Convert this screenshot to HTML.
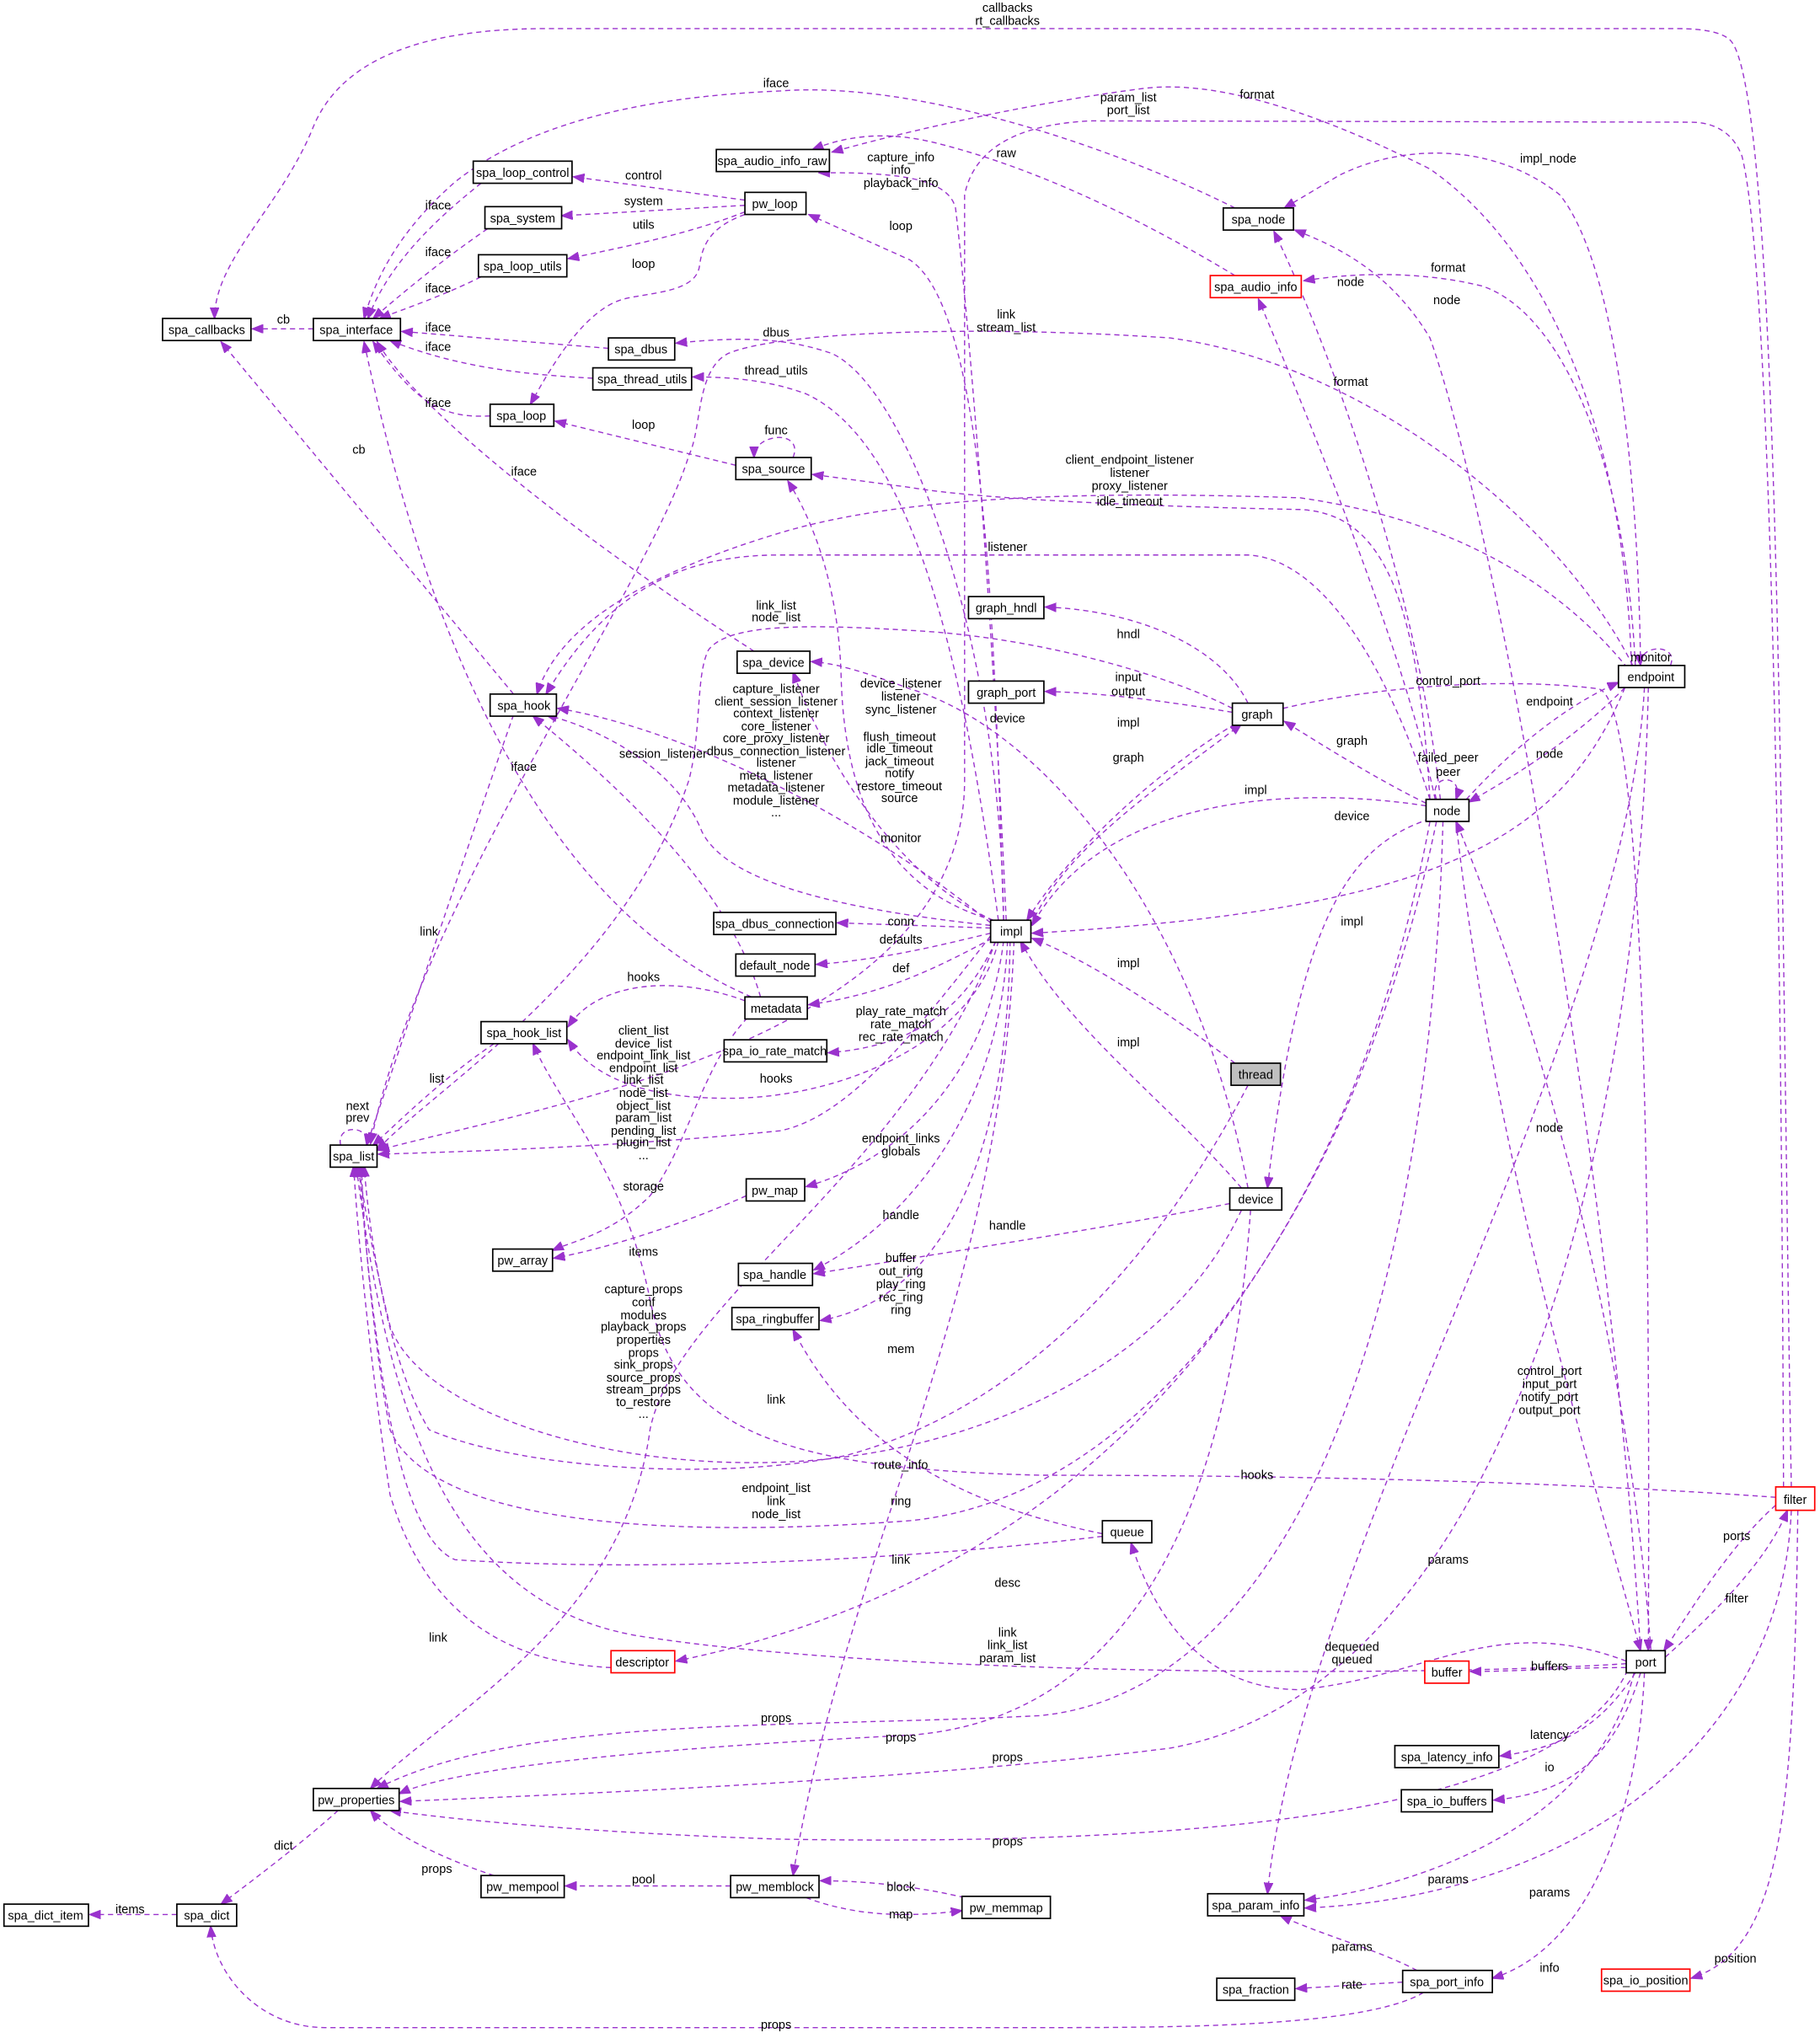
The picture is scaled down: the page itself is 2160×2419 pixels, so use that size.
<!DOCTYPE html>
<html><head><meta charset="utf-8"><style>
html,body{margin:0;padding:0;background:#fff;}
svg{display:block;}
text{font-family:"Liberation Sans",sans-serif;font-size:9.4px;fill:#000;text-anchor:middle;}
.e{fill:none;stroke:#9a32cd;stroke-width:0.9;stroke-dasharray:4,3;}
.n{fill:#fff;stroke:#000;stroke-width:1.1;}
.r{fill:#fff;stroke:#ff0000;stroke-width:1.1;}
.g{fill:#bfbfbf;stroke:#000;stroke-width:1.1;}
</style></head><body>
<svg width="2160" height="2419" viewBox="0 0 1400 1568" xmlns="http://www.w3.org/2000/svg">
<defs><marker id="a" markerUnits="userSpaceOnUse" markerWidth="9" markerHeight="7" refX="8.5" refY="3.5" orient="auto"><path d="M0,0 L9,3.5 L0,7 z" fill="#9a32cd" stroke="#9a32cd" stroke-width="0.5"/></marker></defs>
<g marker-end="url(#a)">
<path class="e" d="M241,253 L194,253"/>
<path class="e" d="M1378,1144 C1370,700 1370,60 1330,30 Q1320,22 1290,22 L420,22 Q270,22 240,100 C215,160 165,200 165,245"/>
<path class="e" d="M395,534 L170,263"/>
<path class="e" d="M370,141 C340,165 300,200 283,245"/>
<path class="e" d="M375,176 C340,200 310,225 287,245"/>
<path class="e" d="M370,213 C340,228 310,238 292,245"/>
<path class="e" d="M468,268 L309,255"/>
<path class="e" d="M456,291 C400,288 350,282 300,262"/>
<path class="e" d="M377,320 C340,322 320,310 287,263"/>
<path class="e" d="M580,501 C500,450 330,330 290,263"/>
<path class="e" d="M578,767 C420,700 330,500 280,263"/>
<path class="e" d="M950,160 C850,110 700,62 600,70 C480,75 400,100 350,140 C310,175 290,210 280,245"/>
<path class="e" d="M573,154 L441,136"/>
<path class="e" d="M573,158 L432,166"/>
<path class="e" d="M573,163 C530,180 480,190 437,199"/>
<path class="e" d="M573,165 C545,175 540,190 538,205 C535,225 500,225 480,230 C450,238 425,280 408,311"/>
<path class="e" d="M772,708 C765,500 760,240 700,200 L622,165"/>
<path class="e" d="M566,358 L427,324"/>
<path class="e" d="M610,352 C615,340 605,335 595,337 C585,339 580,345 580,352"/>
<path class="e" d="M764,708 C700,690 650,640 647,520 C645,450 625,400 606,370"/>
<path class="e" d="M772,708 C770,500 700,300 640,272 C600,258 560,260 520,264"/>
<path class="e" d="M768,708 C740,500 700,340 620,303 C590,292 560,290 533,290"/>
<path class="e" d="M774,708 C760,400 740,200 735,160 C730,140 700,132 630,133"/>
<path class="e" d="M950,212 C880,170 800,130 720,110 C680,100 650,105 625,115"/>
<path class="e" d="M1255,512 C1250,350 1200,200 1100,130 C1000,80 930,62 880,68 C800,78 700,100 640,117"/>
<path class="e" d="M1372,1144 C1370,600 1360,200 1340,120 Q1330,94 1300,94 L840,93 C790,95 750,110 742,150 L742,600 C742,800 420,850 291,885"/>
<path class="e" d="M1262,512 C1260,350 1240,200 1200,150 C1150,110 1080,110 1030,135 L988,160"/>
<path class="e" d="M1108,615 C1090,450 1020,260 980,178"/>
<path class="e" d="M1262,1270 C1240,900 1150,400 1100,260 C1070,210 1030,190 996,177"/>
<path class="e" d="M1258,512 C1250,350 1200,240 1140,220 C1090,208 1040,210 1003,216"/>
<path class="e" d="M1104,615 C1080,500 1010,330 968,230"/>
<path class="e" d="M1256,512 C1200,400 1050,280 900,260 C750,250 600,255 560,272 C535,285 540,330 530,350 C500,450 320,700 285,880"/>
<path class="e" d="M1100,615 C1090,450 1060,395 1000,392 C900,390 760,385 700,375 L625,365"/>
<path class="e" d="M1252,514 C1200,450 1120,400 1000,383 C850,378 700,380 600,410 C500,440 430,480 413,534"/>
<path class="e" d="M1100,615 C1070,520 1020,430 960,427 L600,427 C530,427 470,450 420,534"/>
<path class="e" d="M948,545 C900,520 800,490 700,485 C620,480 560,480 545,500 C535,520 540,560 530,600 C480,750 330,840 290,885"/>
<path class="e" d="M960,541 C940,500 880,470 804,467"/>
<path class="e" d="M948,548 C900,540 850,533 804,532"/>
<path class="e" d="M793,712 C820,650 900,600 955,557"/>
<path class="e" d="M950,557 C880,600 820,660 790,708"/>
<path class="e" d="M1097,618 C1060,600 1020,575 988,555"/>
<path class="e" d="M987,545 C1050,530 1150,520 1230,530 C1260,540 1270,800 1268,1270"/>
<path class="e" d="M1105,615 C1098,595 1127,595 1120,615"/>
<path class="e" d="M1128,615 C1160,580 1200,545 1245,525"/>
<path class="e" d="M1250,529 C1210,570 1160,600 1130,617"/>
<path class="e" d="M1285,512 C1292,495 1260,495 1262,512"/>
<path class="e" d="M1097,620 C1000,605 850,610 794,712"/>
<path class="e" d="M1250,529 C1200,650 1100,700 794,718"/>
<path class="e" d="M950,818 C900,780 840,740 794,722"/>
<path class="e" d="M955,914 C900,850 820,790 785,724"/>
<path class="e" d="M1100,630 C1040,650 1000,700 975,914"/>
<path class="e" d="M762,714 L644,710"/>
<path class="e" d="M762,718 C720,728 680,738 628,742"/>
<path class="e" d="M763,722 C720,745 680,765 622,773"/>
<path class="e" d="M766,724 C740,780 700,805 637,810"/>
<path class="e" d="M768,724 C750,800 650,845 560,845 C480,845 450,820 437,800"/>
<path class="e" d="M573,770 C520,750 460,755 437,790"/>
<path class="e" d="M575,783 C540,820 530,880 500,920 C470,950 440,955 425,962"/>
<path class="e" d="M762,720 C700,800 650,860 600,870 C500,880 400,885 291,888"/>
<path class="e" d="M380,803 C340,830 310,860 287,881"/>
<path class="e" d="M395,550 C360,650 310,800 282,881"/>
<path class="e" d="M262,881 C258,865 285,865 282,881"/>
<path class="e" d="M772,724 C760,820 700,890 620,913"/>
<path class="e" d="M574,920 C530,940 470,960 426,968"/>
<path class="e" d="M775,724 C770,850 700,940 626,977"/>
<path class="e" d="M946,926 C850,945 720,965 626,980"/>
<path class="e" d="M777,724 C775,900 720,1000 631,1016"/>
<path class="e" d="M848,1180 C750,1160 660,1120 610,1023"/>
<path class="e" d="M780,724 C770,1000 650,1200 610,1443"/>
<path class="e" d="M766,724 C700,900 520,1000 500,1100 C480,1250 340,1320 285,1376"/>
<path class="e" d="M960,835 C900,950 800,1080 650,1120 C550,1140 400,1130 330,1100 C300,1050 285,960 280,897"/>
<path class="e" d="M1105,632 C1050,900 900,1150 700,1170 C500,1185 330,1170 300,1100 C290,1050 280,960 278,897"/>
<path class="e" d="M955,931 C900,1050 750,1120 600,1125 C450,1130 320,1080 300,1020 C290,980 280,930 276,897"/>
<path class="e" d="M848,1182 C700,1200 500,1210 350,1200 C300,1180 285,1000 276,897"/>
<path class="e" d="M1251,1280 C1100,1290 700,1290 500,1260 C350,1240 300,1100 274,897"/>
<path class="e" d="M470,1283 C400,1280 330,1250 300,1150 C285,1050 275,950 272,897"/>
<path class="e" d="M1100,632 C1050,900 900,1200 520,1278"/>
<path class="e" d="M1110,632 C1100,1000 1000,1300 800,1320 C600,1330 400,1320 290,1376"/>
<path class="e" d="M962,931 C950,1100 900,1320 700,1335 C500,1345 350,1360 307,1380"/>
<path class="e" d="M1268,529 C1260,900 1150,1300 900,1345 C700,1370 450,1380 308,1386"/>
<path class="e" d="M1252,1285 C1200,1400 900,1420 600,1415 C450,1410 350,1400 300,1393"/>
<path class="e" d="M260,1393 C230,1420 190,1450 170,1465"/>
<path class="e" d="M380,1443 C340,1430 300,1410 285,1393"/>
<path class="e" d="M562,1451 L435,1451"/>
<path class="e" d="M742,1460 C700,1450 660,1447 631,1447"/>
<path class="e" d="M620,1460 C660,1475 700,1475 740,1470"/>
<path class="e" d="M136,1473 L69,1473"/>
<path class="e" d="M1095,1533 C1050,1560 900,1560 800,1560 L250,1560 C200,1560 165,1520 162,1482"/>
<path class="e" d="M1090,1516 C1060,1500 1020,1490 985,1474"/>
<path class="e" d="M1079,1525 L997,1530"/>
<path class="e" d="M1265,1287 C1260,1400 1220,1500 1148,1522"/>
<path class="e" d="M1383,1162 C1380,1400 1370,1500 1301,1522"/>
<path class="e" d="M1257,1287 C1230,1400 1100,1450 1004,1462"/>
<path class="e" d="M1378,1162 C1370,1350 1200,1460 1004,1468"/>
<path class="e" d="M1265,529 C1250,800 1000,1200 975,1457"/>
<path class="e" d="M1251,1283 C1200,1283 1170,1286 1131,1286"/>
<path class="e" d="M1258,1287 C1230,1330 1200,1345 1154,1351"/>
<path class="e" d="M1262,1287 C1240,1360 1200,1380 1149,1385"/>
<path class="e" d="M1251,1278 C1150,1240 1100,1290 1000,1300 C930,1300 890,1250 870,1187"/>
<path class="e" d="M1366,1158 C1330,1190 1300,1240 1280,1270"/>
<path class="e" d="M1281,1275 C1320,1240 1360,1200 1375,1162"/>
<path class="e" d="M1120,632 C1150,900 1230,1150 1262,1270"/>
<path class="e" d="M1270,1270 C1250,1000 1170,750 1120,632"/>
<path class="e" d="M960,914 C920,700 800,560 700,530 C660,515 640,510 624,509"/>
<path class="e" d="M764,708 C700,680 640,600 610,517"/>
<path class="e" d="M762,710 C650,620 520,560 429,545"/>
<path class="e" d="M762,712 C650,700 560,680 540,640 C520,590 460,560 420,550"/>
<path class="e" d="M585,767 C560,680 470,600 410,551"/>
<path class="e" d="M1366,1152 C1200,1140 1000,1135 800,1135 C600,1130 520,1100 500,1000 C480,900 430,850 410,803"/>
</g>
<!-- edge labels -->
<text x="218" y="249">cb</text>
<text x="775" y="9">callbacks</text><text x="775" y="19">rt_callbacks</text>
<text x="276" y="349">cb</text>
<text x="337" y="161">iface</text><text x="337" y="197">iface</text><text x="337" y="225">iface</text>
<text x="337" y="255">iface</text><text x="337" y="270">iface</text><text x="337" y="313">iface</text>
<text x="403" y="366">iface</text><text x="403" y="593">iface</text><text x="597" y="67">iface</text>
<text x="495" y="138">control</text><text x="495" y="158">system</text><text x="495" y="176">utils</text>
<text x="495" y="206">loop</text><text x="693" y="177">loop</text><text x="495" y="330">loop</text>
<text x="597" y="334">func</text>
<text x="692" y="570">flush_timeout</text><text x="692" y="579">idle_timeout</text><text x="692" y="589">jack_timeout</text><text x="692" y="598">notify</text><text x="692" y="608">restore_timeout</text><text x="692" y="617">source</text>
<text x="597" y="259">dbus</text><text x="597" y="288">thread_utils</text>
<text x="693" y="124">capture_info</text><text x="693" y="134">info</text><text x="693" y="144">playback_info</text>
<text x="774" y="121">raw</text><text x="967" y="76">format</text>
<text x="868" y="78">param_list</text><text x="868" y="88">port_list</text>
<text x="1191" y="125">impl_node</text><text x="1039" y="220">node</text><text x="1113" y="234">node</text>
<text x="1114" y="209">format</text><text x="1039" y="297">format</text>
<text x="774" y="245">link</text><text x="774" y="255">stream_list</text>
<text x="869" y="357">client_endpoint_listener</text><text x="869" y="367">listener</text><text x="869" y="377">proxy_listener</text><text x="869" y="389">idle_timeout</text>
<text x="775" y="424">listener</text>
<text x="597" y="469">link_list</text><text x="597" y="478">node_list</text>
<text x="868" y="491">hndl</text><text x="868" y="524">input</text><text x="868" y="535">output</text>
<text x="868" y="559">impl</text><text x="868" y="586">graph</text><text x="1040" y="573">graph</text>
<text x="1114" y="527">control_port</text><text x="1114" y="586">failed_peer</text><text x="1114" y="597">peer</text>
<text x="1192" y="543">endpoint</text><text x="1192" y="583">node</text><text x="1270" y="509">monitor</text>
<text x="966" y="611">impl</text><text x="1040" y="712">impl</text><text x="868" y="744">impl</text><text x="868" y="805">impl</text>
<text x="1040" y="631">device</text>
<text x="693" y="712">conn</text><text x="693" y="726">defaults</text><text x="693" y="748">def</text>
<text x="693" y="781">play_rate_match</text><text x="693" y="791">rate_match</text><text x="693" y="801">rec_rate_match</text>
<text x="597" y="833">hooks</text><text x="495" y="755">hooks</text><text x="495" y="916">storage</text>
<text x="495" y="796">client_list</text><text x="495" y="806">device_list</text><text x="495" y="815">endpoint_link_list</text><text x="495" y="825">endpoint_list</text><text x="495" y="834">link_list</text><text x="495" y="844">node_list</text><text x="495" y="854">object_list</text><text x="495" y="863">param_list</text><text x="495" y="873">pending_list</text><text x="495" y="882">plugin_list</text><text x="495" y="892">...</text>
<text x="336" y="833">list</text><text x="330" y="720">link</text>
<text x="275" y="854">next</text><text x="275" y="863">prev</text>
<text x="693" y="879">endpoint_links</text><text x="693" y="889">globals</text>
<text x="495" y="966">items</text><text x="693" y="938">handle</text><text x="775" y="946">handle</text>
<text x="693" y="971">buffer</text><text x="693" y="981">out_ring</text><text x="693" y="991">play_ring</text><text x="693" y="1001">rec_ring</text><text x="693" y="1011">ring</text>
<text x="693" y="1158">ring</text><text x="693" y="1041">mem</text>
<text x="495" y="995">capture_props</text><text x="495" y="1005">conf</text><text x="495" y="1015">modules</text><text x="495" y="1024">playback_props</text><text x="495" y="1034">properties</text><text x="495" y="1044">props</text><text x="495" y="1053">sink_props</text><text x="495" y="1063">source_props</text><text x="495" y="1072">stream_props</text><text x="495" y="1082">to_restore</text><text x="495" y="1091">...</text>
<text x="597" y="1080">link</text><text x="693" y="1130">route_info</text>
<text x="597" y="1148">endpoint_list</text><text x="597" y="1158">link</text><text x="597" y="1168">node_list</text>
<text x="693" y="1203">link</text>
<text x="775" y="1259">link</text><text x="775" y="1269">link_list</text><text x="775" y="1279">param_list</text>
<text x="337" y="1263">link</text><text x="775" y="1221">desc</text>
<text x="597" y="1325">props</text><text x="693" y="1340">props</text><text x="775" y="1355">props</text><text x="775" y="1420">props</text>
<text x="218" y="1423">dict</text><text x="336" y="1441">props</text><text x="495" y="1449">pool</text>
<text x="693" y="1455">block</text><text x="693" y="1476">map</text><text x="100" y="1472">items</text>
<text x="597" y="1561">props</text><text x="1040" y="1501">params</text><text x="1040" y="1530">rate</text>
<text x="1192" y="1517">info</text><text x="1335" y="1510">position</text>
<text x="1114" y="1449">params</text><text x="1192" y="1459">params</text><text x="1114" y="1203">params</text>
<text x="1192" y="1285">buffers</text><text x="1192" y="1338">latency</text><text x="1192" y="1363">io</text>
<text x="1040" y="1270">dequeued</text><text x="1040" y="1280">queued</text>
<text x="1336" y="1185">ports</text><text x="1336" y="1233">filter</text>
<text x="1192" y="1058">control_port</text><text x="1192" y="1068">input_port</text><text x="1192" y="1078">notify_port</text><text x="1192" y="1088">output_port</text>
<text x="1192" y="871">node</text><text x="775" y="556">device</text><text x="693" y="648">monitor</text>
<text x="693" y="529">device_listener</text><text x="693" y="539">listener</text><text x="693" y="549">sync_listener</text>
<text x="597" y="533">capture_listener</text><text x="597" y="543">client_session_listener</text><text x="597" y="552">context_listener</text><text x="597" y="562">core_listener</text><text x="597" y="571">core_proxy_listener</text><text x="597" y="581">dbus_connection_listener</text><text x="597" y="590">listener</text><text x="597" y="600">meta_listener</text><text x="597" y="609">metadata_listener</text><text x="597" y="619">module_listener</text><text x="597" y="628">...</text>
<text x="510" y="583">session_listener</text><text x="967" y="1138">hooks</text>
<!-- nodes -->
<g>
<rect class="n" x="125" y="245" width="68" height="17"/><text x="159" y="257">spa_callbacks</text>
<rect class="n" x="241" y="245" width="67" height="17"/><text x="274" y="257">spa_interface</text>
<rect class="n" x="364" y="124" width="76" height="17"/><text x="402" y="136">spa_loop_control</text>
<rect class="n" x="373" y="159" width="59" height="17"/><text x="402" y="171">spa_system</text>
<rect class="n" x="368" y="196" width="68" height="17"/><text x="402" y="208">spa_loop_utils</text>
<rect class="n" x="551" y="115" width="87" height="17"/><text x="594" y="127">spa_audio_info_raw</text>
<rect class="n" x="573" y="148" width="47" height="17"/><text x="596" y="160">pw_loop</text>
<rect class="n" x="468" y="260" width="51" height="17"/><text x="493" y="272">spa_dbus</text>
<rect class="n" x="456" y="283" width="76" height="17"/><text x="494" y="295">spa_thread_utils</text>
<rect class="n" x="377" y="311" width="49" height="17"/><text x="401" y="323">spa_loop</text>
<rect class="n" x="566" y="352" width="58" height="17"/><text x="595" y="364">spa_source</text>
<rect class="n" x="941" y="160" width="54" height="17"/><text x="968" y="172">spa_node</text>
<rect class="r" x="931" y="212" width="70" height="17"/><text x="966" y="224">spa_audio_info</text>
<rect class="n" x="745" y="459" width="58" height="17"/><text x="774" y="471">graph_hndl</text>
<rect class="n" x="745" y="524" width="58" height="17"/><text x="774" y="536">graph_port</text>
<rect class="n" x="567" y="501" width="56" height="17"/><text x="595" y="513">spa_device</text>
<rect class="n" x="377" y="534" width="51" height="17"/><text x="403" y="546">spa_hook</text>
<rect class="n" x="948" y="541" width="39" height="17"/><text x="967" y="553">graph</text>
<rect class="n" x="1245" y="512" width="51" height="17"/><text x="1270" y="524">endpoint</text>
<rect class="n" x="1097" y="615" width="33" height="17"/><text x="1113" y="627">node</text>
<rect class="n" x="549" y="702" width="94" height="17"/><text x="596" y="714">spa_dbus_connection</text>
<rect class="n" x="762" y="708" width="31" height="17"/><text x="778" y="720">impl</text>
<rect class="n" x="566" y="734" width="61" height="17"/><text x="596" y="746">default_node</text>
<rect class="n" x="573" y="767" width="48" height="17"/><text x="597" y="779">metadata</text>
<rect class="n" x="370" y="786" width="66" height="17"/><text x="403" y="798">spa_hook_list</text>
<rect class="n" x="557" y="800" width="79" height="17"/><text x="596" y="812">spa_io_rate_match</text>
<rect class="g" x="947" y="818" width="38" height="17"/><text x="966" y="830">thread</text>
<rect class="n" x="254" y="881" width="36" height="17"/><text x="272" y="893">spa_list</text>
<rect class="n" x="574" y="907" width="45" height="17"/><text x="596" y="919">pw_map</text>
<rect class="n" x="946" y="914" width="40" height="17"/><text x="966" y="926">device</text>
<rect class="n" x="379" y="961" width="46" height="17"/><text x="402" y="973">pw_array</text>
<rect class="n" x="568" y="972" width="57" height="17"/><text x="596" y="984">spa_handle</text>
<rect class="n" x="563" y="1006" width="67" height="17"/><text x="596" y="1018">spa_ringbuffer</text>
<rect class="n" x="848" y="1170" width="38" height="17"/><text x="867" y="1182">queue</text>
<rect class="r" x="1366" y="1144" width="30" height="18"/><text x="1381" y="1157">filter</text>
<rect class="r" x="470" y="1270" width="49" height="17"/><text x="494" y="1282">descriptor</text>
<rect class="r" x="1096" y="1278" width="34" height="17"/><text x="1113" y="1290">buffer</text>
<rect class="n" x="1251" y="1270" width="30" height="17"/><text x="1266" y="1282">port</text>
<rect class="n" x="1073" y="1343" width="80" height="17"/><text x="1113" y="1355">spa_latency_info</text>
<rect class="n" x="1078" y="1377" width="70" height="17"/><text x="1113" y="1389">spa_io_buffers</text>
<rect class="n" x="241" y="1376" width="66" height="17"/><text x="274" y="1388">pw_properties</text>
<rect class="n" x="3" y="1465" width="65" height="17"/><text x="35" y="1477">spa_dict_item</text>
<rect class="n" x="136" y="1465" width="46" height="17"/><text x="159" y="1477">spa_dict</text>
<rect class="n" x="370" y="1443" width="64" height="17"/><text x="402" y="1455">pw_mempool</text>
<rect class="n" x="562" y="1443" width="68" height="17"/><text x="596" y="1455">pw_memblock</text>
<rect class="n" x="740" y="1459" width="68" height="17"/><text x="774" y="1471">pw_memmap</text>
<rect class="n" x="929" y="1457" width="74" height="17"/><text x="966" y="1469">spa_param_info</text>
<rect class="n" x="936" y="1522" width="60" height="17"/><text x="966" y="1534">spa_fraction</text>
<rect class="n" x="1079" y="1516" width="69" height="17"/><text x="1113" y="1528">spa_port_info</text>
<rect class="r" x="1232" y="1515" width="68" height="17"/><text x="1266" y="1527">spa_io_position</text>
</g>
</svg>
</body></html>
